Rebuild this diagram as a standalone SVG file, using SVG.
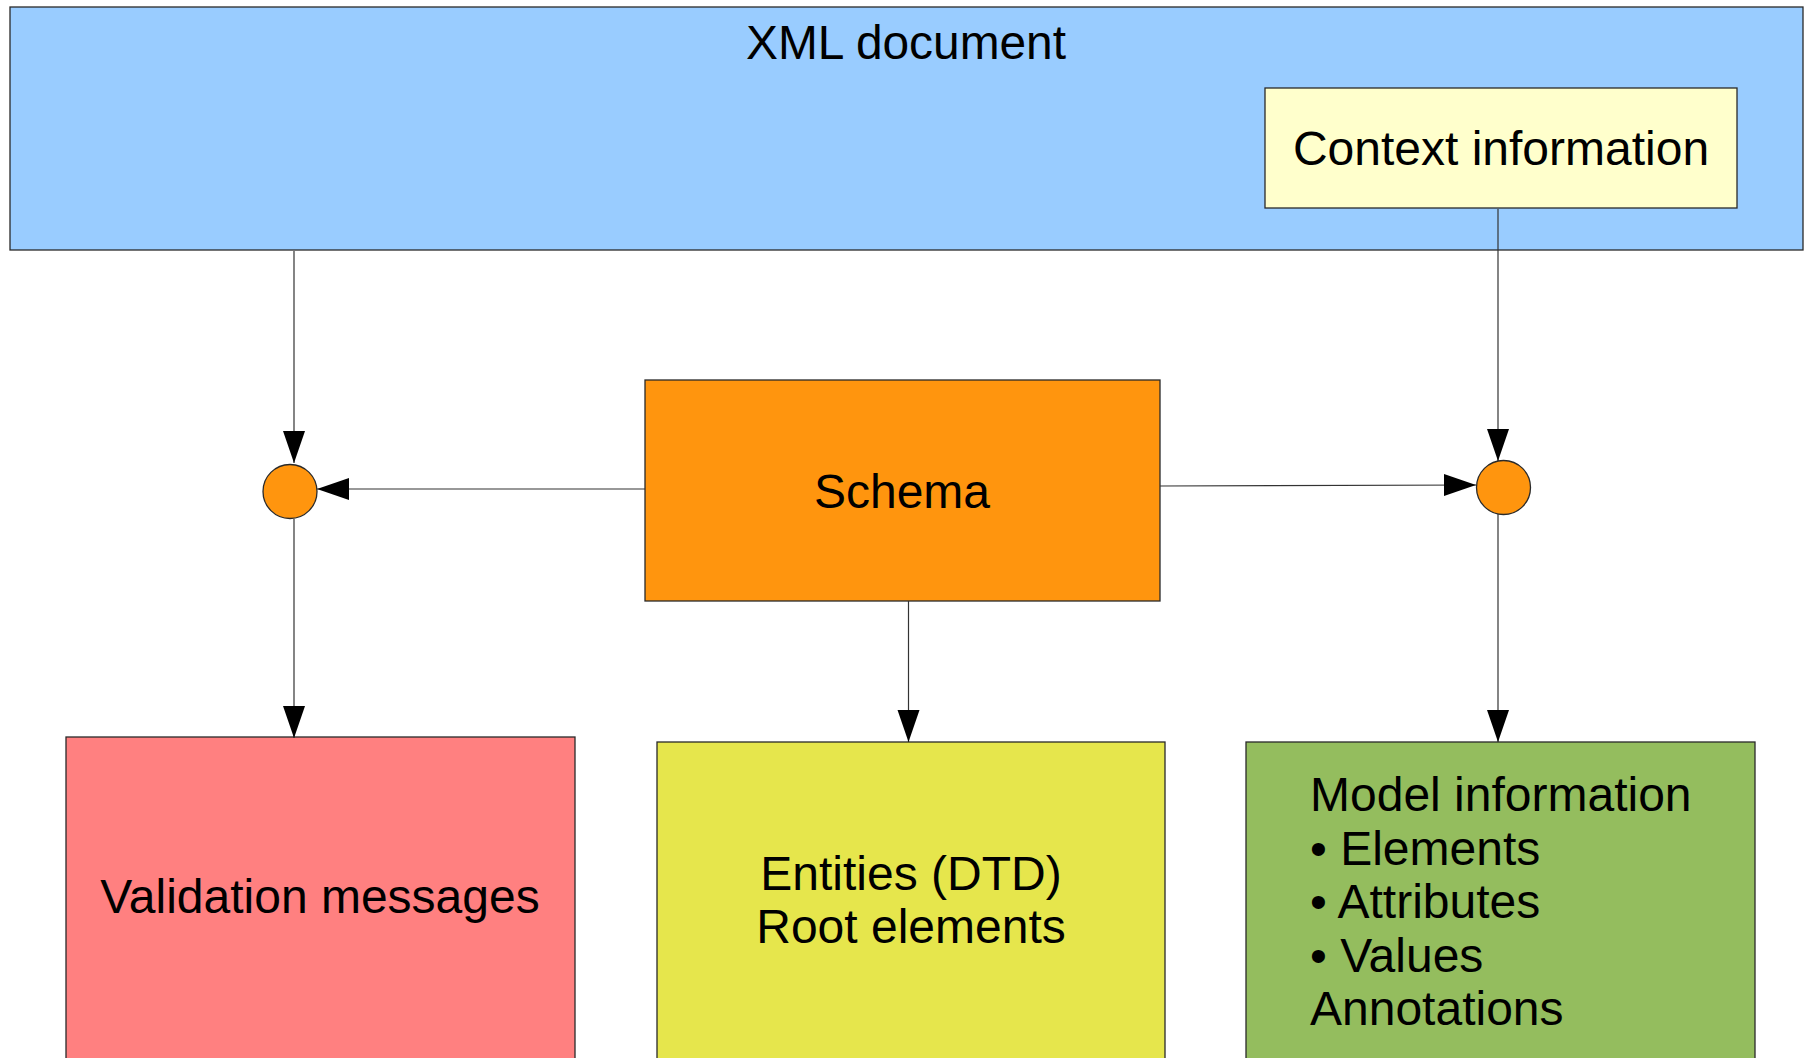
<svg xmlns="http://www.w3.org/2000/svg" width="1806" height="1058" viewBox="0 0 1806 1058">
<style>
  .box { stroke: #2a2a2a; stroke-width: 1.3; }
  .lbl { font-family: "Liberation Sans", Arial, sans-serif; font-size: 48px; fill: #000; }
  .mid { text-anchor: middle; }
  .conn line { stroke: #333; stroke-width: 1.2; fill: none; marker-end: url(#arr); }
</style>
<defs>
  <marker id="arr" markerUnits="userSpaceOnUse" markerWidth="33" markerHeight="23" refX="32" refY="11" orient="auto">
    <path d="M0,0 L32,11 L0,22 Z" fill="#000"/>
  </marker>
</defs>
<rect width="1806" height="1058" fill="#fff"/>

<g id="xml-document">
  <rect class="box" x="10" y="7" width="1793" height="243" fill="#99ccff"/>
  <text class="lbl mid" x="906" y="59" textLength="320" lengthAdjust="spacingAndGlyphs">XML document</text>
</g>

<g id="context-information">
  <rect class="box" x="1265" y="88" width="472" height="120" fill="#ffffcc"/>
  <text class="lbl mid" x="1501" y="165">Context information</text>
</g>

<g id="schema">
  <rect class="box" x="645" y="380" width="515" height="221" fill="#ff950e"/>
  <text class="lbl mid" x="902" y="508">Schema</text>
</g>

<g id="join-left">
  <circle class="box" cx="290" cy="491.5" r="27" fill="#ff950e"/>
</g>

<g id="join-right">
  <circle class="box" cx="1503.5" cy="487.5" r="27" fill="#ff950e"/>
</g>

<g id="validation-messages">
  <rect class="box" x="66" y="737" width="509" height="340" fill="#ff8080"/>
  <text class="lbl mid" x="320" y="913">Validation messages</text>
</g>

<g id="entities">
  <rect class="box" x="657" y="742" width="508" height="340" fill="#e6e64c"/>
  <text class="lbl mid" x="911" y="890">Entities (DTD)</text>
  <text class="lbl mid" x="911" y="943">Root elements</text>
</g>

<g id="model-information">
  <rect class="box" x="1246" y="742" width="509" height="340" fill="#94bd5e"/>
  <text class="lbl" x="1310" y="811">Model information</text>
  <text class="lbl" x="1310" y="864.5">• Elements</text>
  <text class="lbl" x="1310" y="918">• Attributes</text>
  <text class="lbl" x="1310" y="971.5">• Values</text>
  <text class="lbl" x="1310" y="1025">Annotations</text>
</g>

<g id="connectors" class="conn">
  <line x1="294" y1="251" x2="294" y2="463"/>
  <line x1="645" y1="489" x2="317" y2="489"/>
  <line x1="294" y1="519" x2="294" y2="738"/>
  <line x1="908.5" y1="601" x2="908.5" y2="742"/>
  <line x1="1160" y1="486" x2="1476" y2="485"/>
  <line x1="1498" y1="209" x2="1498" y2="461"/>
  <line x1="1498" y1="514" x2="1498" y2="742"/>
</g>
</svg>
